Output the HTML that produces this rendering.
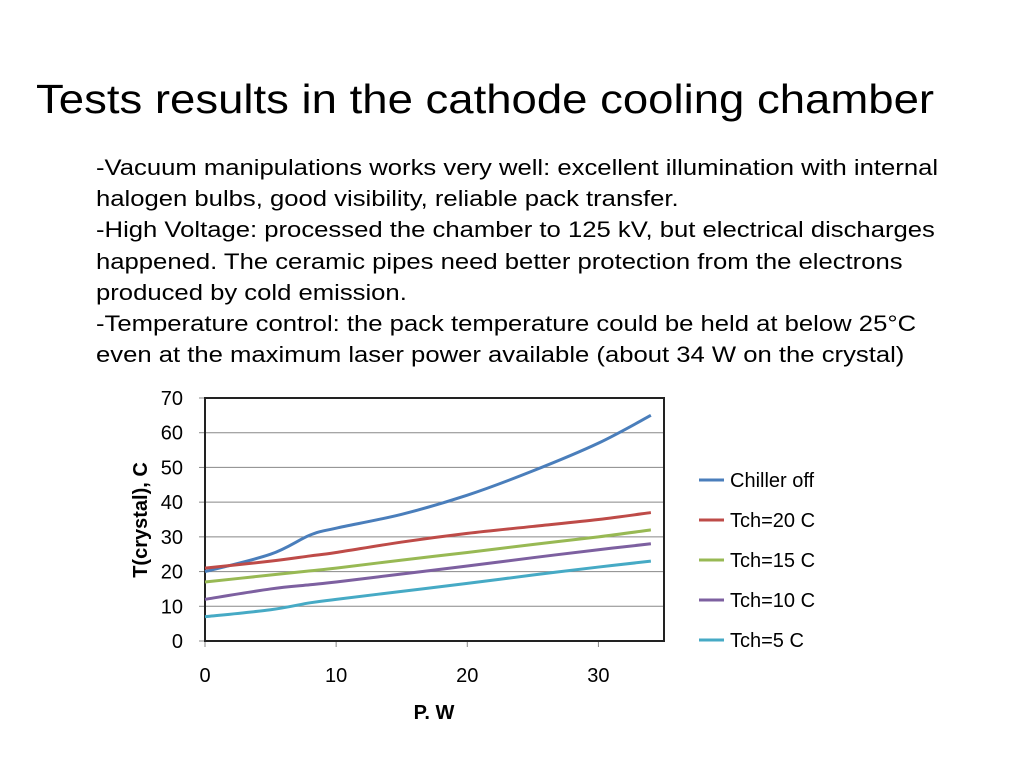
<!DOCTYPE html>
<html><head><meta charset="utf-8"><style>
body{margin:0;width:1024px;height:768px;background:#fff;font-family:"Liberation Sans",sans-serif;overflow:hidden;position:relative}
.t{position:absolute;left:36px;top:76px;font-size:41px;color:#000;white-space:nowrap;transform-origin:0 0;transform:scaleX(1.11)}
.b{position:absolute;left:96px;top:152px;font-size:22.5px;line-height:31.2px;color:#000;white-space:nowrap;transform-origin:0 0;transform:scaleX(1.14)}
svg{position:absolute;left:0;top:0}
</style></head><body>
<div class="t">Tests results in the cathode cooling chamber</div>
<div class="b">-Vacuum manipulations works very well: excellent illumination with internal<br>halogen bulbs, good visibility, reliable pack transfer.<br>-High Voltage: processed the chamber to 125 kV, but electrical discharges<br>happened. The ceramic pipes need better protection from the electrons<br>produced by cold emission.<br>-Temperature control: the pack temperature could be held at below 25°C<br>even at the maximum laser power available (about 34 W on the crystal)</div>
<svg id="c" width="1024" height="768"></svg>
<script>
const xs=[0,5,8,10,15,20,25,30,34];
const seriesNames=["Chiller off","Tch=20 C","Tch=15 C","Tch=10 C","Tch=5 C"];
const chillerOff=[20,25,30.5,32.5,36.5,42,49,57,65];
const tch20=[21,23,24.5,25.5,28.5,31,33,35,37];
const tch15=[17,19,20.2,21,23.3,25.5,27.8,30,32];
const tch10=[12,15,16.2,17,19.3,21.6,24,26.3,28];
const tch5=[7,9,11,12,14.3,16.6,19,21.3,23];
const yTicks=[0,10,20,30,40,50,60,70];
const xTicks=[0,10,20,30];
const colors=["#4a7ebb","#be4b48","#98b954","#7d60a0","#46aac5"];
const all=[chillerOff,tch20,tch15,tch10,tch5];
const L=205,R=664,T=398,B=641;
const X=v=>L+v*(R-L)/35, Y=v=>B-v*(B-T)/70;
const FF='Liberation Sans, sans-serif';
const svg=document.getElementById('c');const NS='http://www.w3.org/2000/svg';
function mk(tag,at,txt){const e=document.createElementNS(NS,tag);for(const k in at)e.setAttribute(k,at[k]);if(txt!==undefined)e.textContent=txt;svg.appendChild(e);return e;}
yTicks.forEach(v=>{
 if(v>0&&v<70){const g=mk('line',{x1:L,x2:R,y1:Y(v),y2:Y(v),stroke:'#888','stroke-width':1});
 
 }
 const tk=mk('line',{x1:L-6,x2:L,y1:Y(v),y2:Y(v),stroke:'#888'});
 
 
 const t=mk('text',{x:L-22,y:Y(v)+7,'font-size':20,'text-anchor':'end',fill:'#000','font-family':FF},v);
 
 
});
xTicks.forEach(v=>{
 const tk=mk('line',{x1:X(v),x2:X(v),y1:B,y2:B+6,stroke:'#888'});
 
 
 const t=mk('text',{x:X(v),y:B+41,'font-size':20,'text-anchor':'middle',fill:'#000','font-family':FF},v);
 
 
});
const fr=mk('rect',{x:L,y:T,width:R-L,height:B-T,fill:'none',stroke:'#222','stroke-width':2});


function path(d){let s='M'+X(xs[0])+','+Y(d[0]);
 for(let i=0;i<xs.length-1;i++){const p0=[X(xs[Math.max(i-1,0)]),Y(d[Math.max(i-1,0)])],p1=[X(xs[i]),Y(d[i])],p2=[X(xs[i+1]),Y(d[i+1])],p3=[X(xs[Math.min(i+2,xs.length-1)]),Y(d[Math.min(i+2,xs.length-1)])];
 const c1=[p1[0]+(p2[0]-p0[0])/6,p1[1]+(p2[1]-p0[1])/6],c2=[p2[0]-(p3[0]-p1[0])/6,p2[1]-(p3[1]-p1[1])/6];
 s+=' C'+c1+' '+c2+' '+p2;}return s;}
all.forEach((d,i)=>{
 const p=mk('path',{d:path(d),fill:'none',stroke:colors[i],'stroke-width':3});
 
 
 const ly=480+i*40;
 const ll=mk('line',{x1:699,x2:724,y1:ly,y2:ly,stroke:colors[i],'stroke-width':3});
 
 
 const lt=mk('text',{x:730,y:ly+7,'font-size':20,fill:'#000','font-family':FF},seriesNames[i]);
 
 
});
const xt=mk('text',{x:434,y:719,'font-size':20,'font-weight':'bold','text-anchor':'middle','font-family':FF},'P. W');


const yt=mk('text',{x:0,y:0,'font-size':20,'font-weight':'bold','text-anchor':'middle','transform':'translate(147,520) rotate(-90)','font-family':FF},'T(crystal), C');


</script>
</body></html>
